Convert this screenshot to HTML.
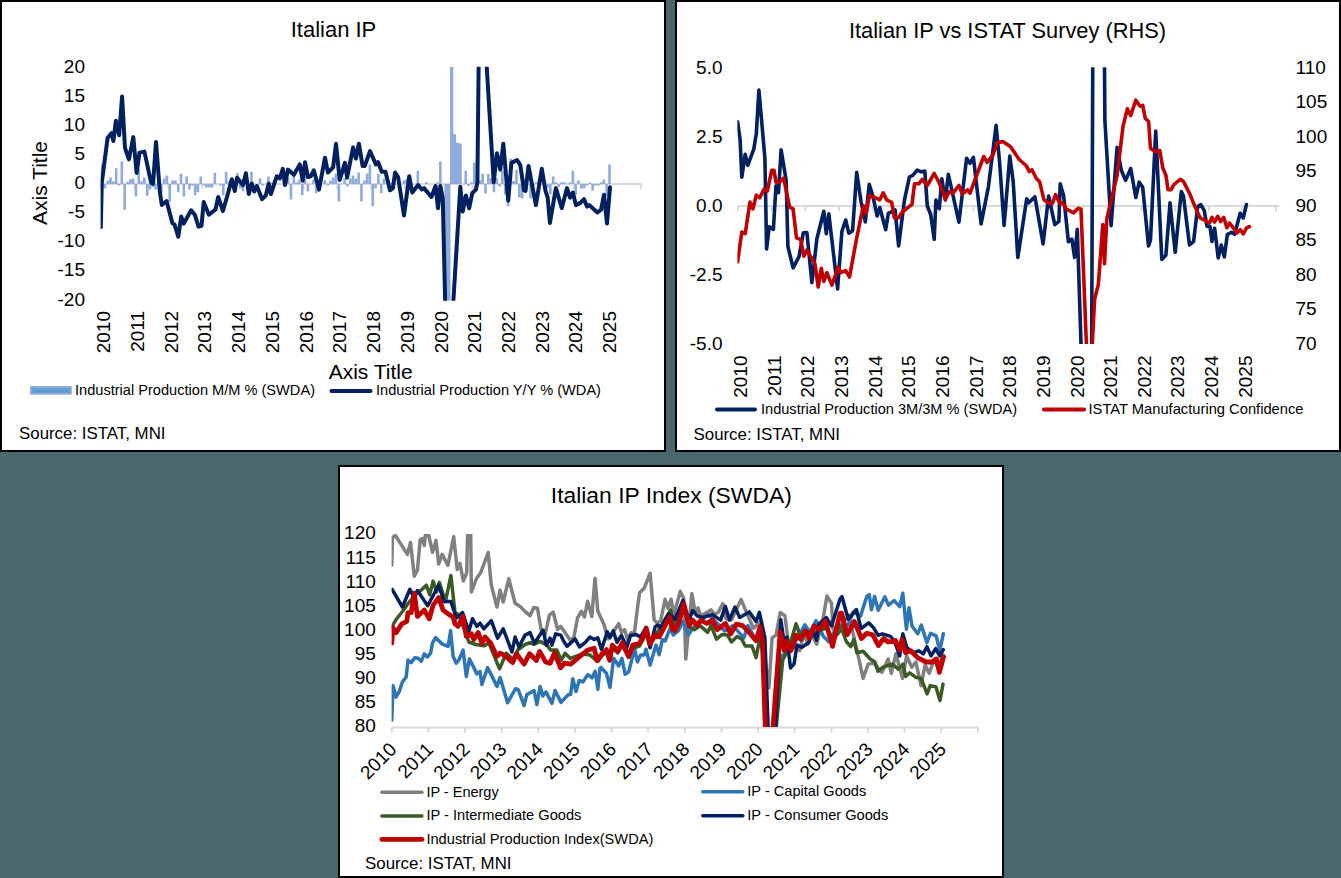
<!DOCTYPE html><html><head><meta charset="utf-8"><style>html,body{margin:0;padding:0;background:#49686E;}svg{display:block}</style></head><body>
<svg width="1341" height="878" viewBox="0 0 1341 878">
<rect x="0" y="0" width="1341" height="878" fill="#49686E"/>
<rect x="1" y="1" width="664" height="450" fill="#FFFFFF" stroke="#000" stroke-width="2"/>
<rect x="676" y="1" width="664" height="450" fill="#FFFFFF" stroke="#000" stroke-width="2"/>
<rect x="339" y="466" width="664" height="411" fill="#FFFFFF" stroke="#000" stroke-width="2"/>
<g font-family="Liberation Sans, sans-serif" fill="#000">
<text x="333.5" y="36.9" font-size="22" text-anchor="middle">Italian IP</text>
<text x="85" y="72.65" font-size="19" text-anchor="end">20</text>
<text x="85" y="101.77" font-size="19" text-anchor="end">15</text>
<text x="85" y="130.89" font-size="19" text-anchor="end">10</text>
<text x="85" y="160.01" font-size="19" text-anchor="end">5</text>
<text x="85" y="189.13" font-size="19" text-anchor="end">0</text>
<text x="85" y="218.25" font-size="19" text-anchor="end">-5</text>
<text x="85" y="247.37" font-size="19" text-anchor="end">-10</text>
<text x="85" y="276.49" font-size="19" text-anchor="end">-15</text>
<text x="85" y="305.61" font-size="19" text-anchor="end">-20</text>
<text transform="translate(46.5,183) rotate(-90)" font-size="21" text-anchor="middle">Axis Title</text>
<text transform="translate(110.10,311) rotate(-90)" font-size="19" text-anchor="end">2010</text>
<text transform="translate(143.84,311) rotate(-90)" font-size="19" text-anchor="end">2011</text>
<text transform="translate(177.58,311) rotate(-90)" font-size="19" text-anchor="end">2012</text>
<text transform="translate(211.32,311) rotate(-90)" font-size="19" text-anchor="end">2013</text>
<text transform="translate(245.06,311) rotate(-90)" font-size="19" text-anchor="end">2014</text>
<text transform="translate(278.80,311) rotate(-90)" font-size="19" text-anchor="end">2015</text>
<text transform="translate(312.54,311) rotate(-90)" font-size="19" text-anchor="end">2016</text>
<text transform="translate(346.28,311) rotate(-90)" font-size="19" text-anchor="end">2017</text>
<text transform="translate(380.02,311) rotate(-90)" font-size="19" text-anchor="end">2018</text>
<text transform="translate(413.76,311) rotate(-90)" font-size="19" text-anchor="end">2019</text>
<text transform="translate(447.50,311) rotate(-90)" font-size="19" text-anchor="end">2020</text>
<text transform="translate(481.24,311) rotate(-90)" font-size="19" text-anchor="end">2021</text>
<text transform="translate(514.98,311) rotate(-90)" font-size="19" text-anchor="end">2022</text>
<text transform="translate(548.72,311) rotate(-90)" font-size="19" text-anchor="end">2023</text>
<text transform="translate(582.46,311) rotate(-90)" font-size="19" text-anchor="end">2024</text>
<text transform="translate(616.20,311) rotate(-90)" font-size="19" text-anchor="end">2025</text>
<text x="370.7" y="378.7" font-size="21" text-anchor="middle">Axis Title</text>
<rect x="30" y="386" width="41.8" height="8.8" rx="1" fill="#8FAADC"/>
<rect x="32" y="388" width="38" height="5" fill="#659ED2"/>
<line x1="36" y1="391.5" x2="68" y2="391.5" stroke="#4A7FB8" stroke-width="1" stroke-dasharray="1,2"/>
<text x="75" y="395" font-size="15" textLength="240" lengthAdjust="spacingAndGlyphs">Industrial Production M/M % (SWDA)</text>
<line x1="331.5" y1="391" x2="370.5" y2="391" stroke="#002060" stroke-width="4" stroke-linecap="round"/>
<text x="376" y="395" font-size="15" textLength="225" lengthAdjust="spacingAndGlyphs">Industrial Production Y/Y % (WDA)</text>
<text x="19" y="439.1" font-size="17" textLength="146.5" lengthAdjust="spacingAndGlyphs">Source: ISTAT, MNI</text>
</g>
<clipPath id="c1"><rect x="100.6" y="66.8" width="560" height="234"/></clipPath>
<line x1="101" y1="184" x2="642.4" y2="184" stroke="#D9D9D9" stroke-width="2"/>
<line x1="101.0" y1="184" x2="101.0" y2="189" stroke="#D9D9D9" stroke-width="2"/>
<line x1="134.8" y1="184" x2="134.8" y2="189" stroke="#D9D9D9" stroke-width="2"/>
<line x1="168.5" y1="184" x2="168.5" y2="189" stroke="#D9D9D9" stroke-width="2"/>
<line x1="202.3" y1="184" x2="202.3" y2="189" stroke="#D9D9D9" stroke-width="2"/>
<line x1="236.0" y1="184" x2="236.0" y2="189" stroke="#D9D9D9" stroke-width="2"/>
<line x1="269.8" y1="184" x2="269.8" y2="189" stroke="#D9D9D9" stroke-width="2"/>
<line x1="303.6" y1="184" x2="303.6" y2="189" stroke="#D9D9D9" stroke-width="2"/>
<line x1="337.3" y1="184" x2="337.3" y2="189" stroke="#D9D9D9" stroke-width="2"/>
<line x1="371.1" y1="184" x2="371.1" y2="189" stroke="#D9D9D9" stroke-width="2"/>
<line x1="404.8" y1="184" x2="404.8" y2="189" stroke="#D9D9D9" stroke-width="2"/>
<line x1="438.6" y1="184" x2="438.6" y2="189" stroke="#D9D9D9" stroke-width="2"/>
<line x1="472.4" y1="184" x2="472.4" y2="189" stroke="#D9D9D9" stroke-width="2"/>
<line x1="506.1" y1="184" x2="506.1" y2="189" stroke="#D9D9D9" stroke-width="2"/>
<line x1="539.9" y1="184" x2="539.9" y2="189" stroke="#D9D9D9" stroke-width="2"/>
<line x1="573.6" y1="184" x2="573.6" y2="189" stroke="#D9D9D9" stroke-width="2"/>
<line x1="607.4" y1="184" x2="607.4" y2="189" stroke="#D9D9D9" stroke-width="2"/>
<line x1="641.2" y1="184" x2="641.2" y2="189" stroke="#D9D9D9" stroke-width="2"/>
<g clip-path="url(#c1)">
<path d="M100.80,164.6h2.6v19.4h-2.6zM103.62,184.0h2.6v4.5h-2.6zM106.44,180.6h2.6v3.4h-2.6zM109.26,177.6h2.6v6.4h-2.6zM112.08,181.3h2.6v2.7h-2.6zM114.89,168.3h2.6v15.7h-2.6zM117.71,184.0h2.6v1.4h-2.6zM120.53,161.5h2.6v22.5h-2.6zM123.35,184.0h2.6v25.7h-2.6zM126.17,181.7h2.6v2.3h-2.6zM128.99,179.3h2.6v4.7h-2.6zM131.81,178.6h2.6v5.4h-2.6zM134.63,184.0h2.6v12.4h-2.6zM137.45,168.7h2.6v15.3h-2.6zM140.27,181.3h2.6v2.7h-2.6zM143.08,177.6h2.6v6.4h-2.6zM145.90,184.0h2.6v11.7h-2.6zM148.72,184.0h2.6v5.5h-2.6zM151.54,184.0h2.6v3.0h-2.6zM154.36,184.0h2.6v5.5h-2.6zM157.18,182.0h2.6v2.0h-2.6zM160.00,184.0h2.6v8.3h-2.6zM162.82,178.6h2.6v5.4h-2.6zM165.64,175.5h2.6v8.5h-2.6zM168.46,184.0h2.6v17.8h-2.6zM171.27,180.6h2.6v3.4h-2.6zM174.09,180.6h2.6v3.4h-2.6zM176.91,184.0h2.6v8.3h-2.6zM179.73,173.8h2.6v10.2h-2.6zM182.55,184.0h2.6v12.4h-2.6zM185.37,176.5h2.6v7.5h-2.6zM188.19,184.0h2.6v5.6h-2.6zM191.01,184.0h2.6v1.4h-2.6zM193.83,184.0h2.6v11.3h-2.6zM196.65,184.0h2.6v8.3h-2.6zM199.46,176.5h2.6v7.5h-2.6zM202.28,184.0h2.6v1.4h-2.6zM205.10,184.0h2.6v3.5h-2.6zM207.92,184.0h2.6v3.5h-2.6zM210.74,184.0h2.6v3.5h-2.6zM213.56,172.8h2.6v11.2h-2.6zM219.20,184.0h2.6v1.4h-2.6zM222.02,184.0h2.6v11.3h-2.6zM224.84,171.7h2.6v12.3h-2.6zM227.65,181.5h2.6v2.5h-2.6zM236.11,173.1h2.6v10.9h-2.6zM238.93,184.0h2.6v4.5h-2.6zM241.75,184.0h2.6v7.3h-2.6zM250.21,171.7h2.6v12.3h-2.6zM255.84,184.0h2.6v2.0h-2.6zM258.66,178.6h2.6v5.4h-2.6zM261.48,184.0h2.6v1.4h-2.6zM267.12,176.5h2.6v7.5h-2.6zM269.94,182.5h2.6v1.5h-2.6zM272.76,179.9h2.6v4.1h-2.6zM286.85,177.9h2.6v6.1h-2.6zM289.67,184.0h2.6v15.4h-2.6zM292.49,175.8h2.6v8.2h-2.6zM295.31,182.3h2.6v1.7h-2.6zM298.13,179.6h2.6v4.4h-2.6zM300.95,184.0h2.6v11.3h-2.6zM303.77,176.9h2.6v7.1h-2.6zM306.59,184.0h2.6v7.6h-2.6zM312.22,179.6h2.6v4.4h-2.6zM315.04,184.0h2.6v9.3h-2.6zM323.50,180.3h2.6v3.7h-2.6zM326.32,184.0h2.6v1.4h-2.6zM329.14,180.6h2.6v3.4h-2.6zM331.96,177.6h2.6v6.4h-2.6zM334.78,173.5h2.6v10.5h-2.6zM337.60,184.0h2.6v17.5h-2.6zM343.23,178.2h2.6v5.8h-2.6zM346.05,184.0h2.6v2.4h-2.6zM348.87,178.6h2.6v5.4h-2.6zM351.69,175.5h2.6v8.5h-2.6zM354.51,178.6h2.6v5.4h-2.6zM357.33,172.4h2.6v11.6h-2.6zM360.15,184.0h2.6v17.5h-2.6zM362.97,180.6h2.6v3.4h-2.6zM365.79,173.5h2.6v10.5h-2.6zM368.60,164.6h2.6v19.4h-2.6zM371.42,184.0h2.6v22.3h-2.6zM374.24,184.0h2.6v4.5h-2.6zM377.06,173.8h2.6v10.2h-2.6zM379.88,184.0h2.6v9.3h-2.6zM382.70,178.6h2.6v5.4h-2.6zM391.16,182.0h2.6v2.0h-2.6zM402.43,180.6h2.6v3.4h-2.6zM405.25,179.0h2.6v5.0h-2.6zM416.53,170.7h2.6v13.3h-2.6zM424.98,182.3h2.6v1.7h-2.6zM436.26,182.3h2.6v1.7h-2.6zM439.08,161.5h2.6v22.5h-2.6zM444.37,184.0h3.3v116.8h-3.3zM447.19,184.0h3.3v116.8h-3.3zM450.01,67.0h3.3v117.0h-3.3zM452.83,134.2h3.3v49.8h-3.3zM455.64,142.7h3.3v41.3h-3.3zM458.46,143.5h3.3v40.5h-3.3zM464.45,170.7h2.6v13.3h-2.6zM467.27,184.0h2.6v2.0h-2.6zM470.09,182.3h2.6v1.7h-2.6zM472.91,162.5h2.6v21.5h-2.6zM478.55,180.3h2.6v3.7h-2.6zM481.36,173.8h2.6v10.2h-2.6zM484.18,184.0h2.6v9.6h-2.6zM487.00,173.8h2.6v10.2h-2.6zM489.82,178.0h2.6v6.0h-2.6zM492.64,184.0h2.6v8.3h-2.6zM495.46,178.0h2.6v6.0h-2.6zM498.28,184.0h2.6v2.4h-2.6zM501.10,170.7h2.6v13.3h-2.6zM503.92,184.0h2.6v10.6h-2.6zM506.74,184.0h2.6v22.3h-2.6zM509.56,158.8h2.6v25.2h-2.6zM512.37,181.0h2.6v3.0h-2.6zM515.19,169.7h2.6v14.3h-2.6zM518.01,184.0h2.6v13.4h-2.6zM520.83,184.0h2.6v14.4h-2.6zM529.29,184.0h2.6v14.4h-2.6zM532.11,184.0h2.6v2.0h-2.6zM534.93,182.3h2.6v1.7h-2.6zM537.75,178.0h2.6v6.0h-2.6zM546.20,184.0h2.6v3.8h-2.6zM549.02,184.0h2.6v10.3h-2.6zM551.84,176.5h2.6v7.5h-2.6zM554.66,182.3h2.6v1.7h-2.6zM557.48,184.0h2.6v3.1h-2.6zM560.30,182.3h2.6v1.7h-2.6zM563.12,182.3h2.6v1.7h-2.6zM568.75,182.5h2.6v1.5h-2.6zM571.57,170.7h2.6v13.3h-2.6zM574.39,184.0h2.6v10.6h-2.6zM577.21,180.6h2.6v3.4h-2.6zM580.03,184.0h2.6v4.5h-2.6zM582.85,184.0h2.6v4.5h-2.6zM585.67,184.0h2.6v1.4h-2.6zM588.49,182.5h2.6v1.5h-2.6zM591.31,184.0h2.6v6.5h-2.6zM594.12,184.0h2.6v1.4h-2.6zM596.94,184.0h2.6v1.4h-2.6zM599.76,182.3h2.6v1.7h-2.6zM602.58,179.6h2.6v4.4h-2.6zM605.40,184.0h2.6v12.0h-2.6zM608.22,164.6h2.6v19.4h-2.6z" fill="#8FAADC"/>
<polyline points="100.8,227.1 101.8,182.6 107.6,138.0 111.5,133.2 113.4,141.0 115.9,120.7 119.2,135.2 122.1,96.5 125.0,147.8 128.9,159.4 133.3,137.1 136.6,172.9 139.5,152.6 144.4,151.6 151.1,182.6 153.1,183.6 156.0,142.0 159.9,192.3 161.8,204.9 166.6,201.0 172.4,223.3 174.4,224.2 178.3,236.8 181.2,216.5 183.7,223.6 191.1,210.3 194.8,214.7 198.5,226.6 201.5,225.8 203.7,202.1 208.9,214.7 215.5,209.5 218.2,197.0 222.9,211.0 227.4,195.5 231.8,179.2 234.8,191.0 237.0,177.7 242.9,185.1 245.9,173.3 248.8,194.0 251.8,183.6 254.2,191.5 256.9,186.0 262.1,199.2 265.8,195.5 268.7,183.6 270.9,194.0 276.8,176.2 279.8,178.5 282.8,168.8 285.0,185.1 287.9,169.6 293.9,174.8 299.8,164.4 302.7,180.7 305.0,162.2 307.9,177.0 310.9,176.2 313.8,170.3 319.0,189.6 325.0,157.7 327.9,172.5 333.1,167.4 336.0,143.7 339.7,180.0 344.9,162.9 347.1,177.7 353.1,147.4 355.9,158.5 358.9,143.7 362.6,165.9 364.8,165.9 370.0,151.1 375.9,164.4 378.1,162.2 381.8,171.8 385.5,171.8 390.0,190.3 392.9,188.1 395.1,172.5 398.1,177.0 404.0,215.5 409.2,176.2 412.2,192.5 418.1,185.1 421.8,189.6 424.0,188.1 431.4,197.0 435.6,186.0 438.0,208.3 440.4,186.0 442.8,198.7 446.0,340.0 451.0,340.0 460.3,186.8 462.7,211.5 465.9,195.5 469.1,208.3 472.3,193.1 475.9,189.6 477.4,182.2 479.0,30.0 484.5,30.0 493.7,182.2 496.9,153.3 500.3,169.6 503.3,143.7 508.2,200.7 511.4,162.9 517.1,160.0 520.3,165.1 524.0,190.3 525.5,191.0 528.5,165.9 535.9,205.1 541.8,168.8 545.5,191.0 547.7,197.7 549.9,222.9 555.9,188.1 561.8,208.1 567.0,188.1 570.0,197.7 572.9,192.5 575.9,205.1 580.3,202.9 584.0,199.2 587.0,206.6 589.2,205.1 597.4,212.5 601.1,209.6 604.0,194.7 607.0,223.6 610.0,187.3" fill="none" stroke="#002060" stroke-width="4" stroke-linejoin="round" stroke-linecap="round"/>
</g>
<g font-family="Liberation Sans, sans-serif" fill="#000">
<text x="1007.5" y="37.7" font-size="22" text-anchor="middle" textLength="317" lengthAdjust="spacingAndGlyphs">Italian IP vs ISTAT Survey (RHS)</text>
<text x="722.5" y="73.60" font-size="19" text-anchor="end">5.0</text>
<text x="722.5" y="142.62" font-size="19" text-anchor="end">2.5</text>
<text x="722.5" y="211.64" font-size="19" text-anchor="end">0.0</text>
<text x="722.5" y="280.66" font-size="19" text-anchor="end">-2.5</text>
<text x="722.5" y="349.68" font-size="19" text-anchor="end">-5.0</text>
<text x="1295.5" y="73.70" font-size="19">110</text>
<text x="1295.5" y="108.19" font-size="19">105</text>
<text x="1295.5" y="142.68" font-size="19">100</text>
<text x="1295.5" y="177.17" font-size="19">95</text>
<text x="1295.5" y="211.66" font-size="19">90</text>
<text x="1295.5" y="246.15" font-size="19">85</text>
<text x="1295.5" y="280.64" font-size="19">80</text>
<text x="1295.5" y="315.13" font-size="19">75</text>
<text x="1295.5" y="349.62" font-size="19">70</text>
<text transform="translate(747.20,355.5) rotate(-90)" font-size="19" text-anchor="end">2010</text>
<text transform="translate(780.83,355.5) rotate(-90)" font-size="19" text-anchor="end">2011</text>
<text transform="translate(814.46,355.5) rotate(-90)" font-size="19" text-anchor="end">2012</text>
<text transform="translate(848.09,355.5) rotate(-90)" font-size="19" text-anchor="end">2013</text>
<text transform="translate(881.72,355.5) rotate(-90)" font-size="19" text-anchor="end">2014</text>
<text transform="translate(915.35,355.5) rotate(-90)" font-size="19" text-anchor="end">2015</text>
<text transform="translate(948.98,355.5) rotate(-90)" font-size="19" text-anchor="end">2016</text>
<text transform="translate(982.61,355.5) rotate(-90)" font-size="19" text-anchor="end">2017</text>
<text transform="translate(1016.24,355.5) rotate(-90)" font-size="19" text-anchor="end">2018</text>
<text transform="translate(1049.87,355.5) rotate(-90)" font-size="19" text-anchor="end">2019</text>
<text transform="translate(1083.50,355.5) rotate(-90)" font-size="19" text-anchor="end">2020</text>
<text transform="translate(1117.13,355.5) rotate(-90)" font-size="19" text-anchor="end">2021</text>
<text transform="translate(1150.76,355.5) rotate(-90)" font-size="19" text-anchor="end">2022</text>
<text transform="translate(1184.39,355.5) rotate(-90)" font-size="19" text-anchor="end">2023</text>
<text transform="translate(1218.02,355.5) rotate(-90)" font-size="19" text-anchor="end">2024</text>
<text transform="translate(1251.65,355.5) rotate(-90)" font-size="19" text-anchor="end">2025</text>
<line x1="717" y1="409.5" x2="755" y2="409.5" stroke="#002060" stroke-width="4" stroke-linecap="round"/>
<text x="761" y="414" font-size="15" textLength="256" lengthAdjust="spacingAndGlyphs">Industrial Production 3M/3M % (SWDA)</text>
<line x1="1044" y1="409.5" x2="1084" y2="409.5" stroke="#C00000" stroke-width="4" stroke-linecap="round"/>
<text x="1088.5" y="414" font-size="15" textLength="215" lengthAdjust="spacingAndGlyphs">ISTAT Manufacturing Confidence</text>
<text x="693.5" y="439.8" font-size="17" textLength="146.5" lengthAdjust="spacingAndGlyphs">Source: ISTAT, MNI</text>
</g>
<line x1="738" y1="206" x2="1279.3" y2="206" stroke="#D9D9D9" stroke-width="2"/>
<line x1="738.0" y1="206" x2="738.0" y2="211.5" stroke="#D9D9D9" stroke-width="2"/>
<line x1="771.6" y1="206" x2="771.6" y2="211.5" stroke="#D9D9D9" stroke-width="2"/>
<line x1="805.3" y1="206" x2="805.3" y2="211.5" stroke="#D9D9D9" stroke-width="2"/>
<line x1="838.9" y1="206" x2="838.9" y2="211.5" stroke="#D9D9D9" stroke-width="2"/>
<line x1="872.5" y1="206" x2="872.5" y2="211.5" stroke="#D9D9D9" stroke-width="2"/>
<line x1="906.1" y1="206" x2="906.1" y2="211.5" stroke="#D9D9D9" stroke-width="2"/>
<line x1="939.8" y1="206" x2="939.8" y2="211.5" stroke="#D9D9D9" stroke-width="2"/>
<line x1="973.4" y1="206" x2="973.4" y2="211.5" stroke="#D9D9D9" stroke-width="2"/>
<line x1="1007.0" y1="206" x2="1007.0" y2="211.5" stroke="#D9D9D9" stroke-width="2"/>
<line x1="1040.7" y1="206" x2="1040.7" y2="211.5" stroke="#D9D9D9" stroke-width="2"/>
<line x1="1074.3" y1="206" x2="1074.3" y2="211.5" stroke="#D9D9D9" stroke-width="2"/>
<line x1="1107.9" y1="206" x2="1107.9" y2="211.5" stroke="#D9D9D9" stroke-width="2"/>
<line x1="1141.6" y1="206" x2="1141.6" y2="211.5" stroke="#D9D9D9" stroke-width="2"/>
<line x1="1175.2" y1="206" x2="1175.2" y2="211.5" stroke="#D9D9D9" stroke-width="2"/>
<line x1="1208.8" y1="206" x2="1208.8" y2="211.5" stroke="#D9D9D9" stroke-width="2"/>
<line x1="1242.5" y1="206" x2="1242.5" y2="211.5" stroke="#D9D9D9" stroke-width="2"/>
<line x1="1276.1" y1="206" x2="1276.1" y2="211.5" stroke="#D9D9D9" stroke-width="2"/>
<clipPath id="c2"><rect x="737.4" y="67.2" width="560" height="276.8"/></clipPath>
<g clip-path="url(#c2)">
<polyline points="737.6,121.7 740.1,139.6 741.8,177.2 745.2,154.2 747.8,165.3 753.8,149.0 756.3,133.7 758.9,90.1 761.5,119.2 764.9,158.4 766.6,249.0 769.2,226.8 773.4,229.4 776.0,185.7 778.5,192.6 781.1,149.9 786.2,180.6 787.9,246.5 793.1,267.8 799.0,256.7 803.3,232.8 806.9,232.6 811.9,282.6 816.9,238.8 823.8,211.3 826.3,233.8 828.8,213.8 832.6,246.3 837.6,288.9 841.9,231.3 845.7,220.0 848.8,233.2 852.6,230.7 856.7,172.4 861.0,201.5 865.3,222.0 869.2,184.4 872.9,196.4 877.2,216.0 879.8,207.5 885.7,229.7 888.3,213.4 895.1,210.0 898.6,245.9 904.5,199.8 909.4,177.0 912.8,175.3 917.1,170.1 921.3,171.8 924.8,171.0 927.3,206.0 930.7,214.5 934.2,239.3 935.9,200.0 939.3,208.6 941.8,178.7 945.3,200.0 948.3,174.4 951.2,187.2 958.9,222.2 966.6,158.2 970.0,163.3 973.4,157.3 981.1,223.9 988.4,186.8 996.1,125.4 999.5,161.2 1004.1,225.4 1009.8,156.1 1013.2,181.7 1017.8,257.5 1026.7,198.7 1028.8,202.8 1034.9,196.7 1043.1,243.9 1048.6,196.0 1054.8,224.7 1058.9,221.3 1060.2,183.7 1063.6,195.4 1068.4,241.8 1071.9,239.2 1074.6,257.4 1077.3,229.2 1082.5,390.0 1091.5,390.0 1093.0,0.0 1104.0,0.0 1104.9,120.6 1111.1,225.7 1117.1,147.2 1121.3,170.2 1125.6,180.4 1130.7,168.5 1135.8,197.5 1139.2,182.2 1142.7,187.3 1148.5,246.0 1150.5,239.9 1155.7,131.1 1161.8,259.4 1165.9,255.3 1170.0,202.9 1175.2,252.2 1181.3,191.6 1183.4,195.7 1189.5,245.0 1193.6,241.5 1197.7,206.6 1200.8,204.6 1204.3,210.7 1206.9,226.1 1210.0,226.6 1212.0,241.5 1214.6,228.2 1218.2,257.9 1221.3,245.1 1224.3,256.9 1227.4,234.3 1231.5,232.3 1234.6,234.3 1240.2,213.3 1243.3,217.9 1246.4,204.6" fill="none" stroke="#002060" stroke-width="3.6" stroke-linejoin="round" stroke-linecap="round"/>
<polyline points="737.6,261.8 741.8,232.0 745.2,233.7 750.0,202.1 752.9,208.9 756.3,195.2 759.8,197.8 764.0,189.2 767.4,190.9 771.7,170.4 774.0,170.4 776.0,182.3 779.4,182.3 783.7,178.1 789.6,207.2 793.1,208.9 796.5,237.9 800.7,239.6 803.8,256.3 806.9,250.1 815.0,263.9 818.2,287.0 821.3,268.2 823.8,281.4 826.9,272.6 831.9,285.1 838.2,267.0 840.7,272.6 845.7,270.7 849.5,277.0 856.3,240.1 861.0,216.8 863.5,205.7 866.1,213.4 869.5,195.5 876.4,198.1 879.8,199.8 883.2,192.9 886.6,199.8 891.7,202.3 894.3,217.7 898.6,217.7 903.7,210.0 904.3,210.3 912.0,204.3 914.5,183.8 918.8,183.8 922.2,179.5 927.3,185.5 934.2,173.5 939.3,182.9 945.3,199.2 949.5,191.5 952.9,193.2 958.9,185.5 962.3,194.0 967.5,189.8 970.0,193.2 983.7,156.5 987.1,162.4 992.7,155.3 997.8,142.4 1002.9,141.6 1010.6,146.7 1019.2,159.5 1026.0,165.5 1029.4,171.5 1032.0,169.8 1036.2,178.3 1039.6,181.7 1043.9,199.7 1048.2,203.1 1052.5,203.1 1055.5,194.6 1060.0,203.7 1062.8,202.8 1066.4,209.1 1073.7,212.8 1078.2,208.2 1081.0,209.1 1087.2,364.0 1091.2,364.0 1094.6,299.3 1098.3,284.8 1102.8,224.6 1104.5,263.8 1106.8,218.8 1117.1,175.3 1123.0,126.7 1127.3,108.8 1130.7,115.6 1135.8,100.2 1140.1,106.2 1142.7,105.4 1145.2,118.2 1148.6,121.6 1150.5,148.5 1155.7,151.6 1159.8,150.6 1162.8,168.0 1165.9,175.2 1168.0,189.6 1171.1,189.6 1174.1,184.4 1180.3,179.3 1183.4,181.4 1190.0,194.3 1194.1,204.6 1200.2,217.9 1209.5,223.0 1212.0,217.4 1214.6,222.0 1217.7,216.4 1220.7,221.5 1223.8,217.4 1226.9,227.7 1229.5,223.0 1237.1,232.8 1240.2,229.7 1243.3,233.8 1246.4,228.2 1249.4,226.6" fill="none" stroke="#C00000" stroke-width="3.6" stroke-linejoin="round" stroke-linecap="round"/>
</g>
<g font-family="Liberation Sans, sans-serif" fill="#000">
<text x="671.3" y="502.6" font-size="22" text-anchor="middle" textLength="241" lengthAdjust="spacingAndGlyphs">Italian IP Index (SWDA)</text>
<text x="375.8" y="539.40" font-size="19" text-anchor="end">120</text>
<text x="375.8" y="563.52" font-size="19" text-anchor="end">115</text>
<text x="375.8" y="587.64" font-size="19" text-anchor="end">110</text>
<text x="375.8" y="611.76" font-size="19" text-anchor="end">105</text>
<text x="375.8" y="635.88" font-size="19" text-anchor="end">100</text>
<text x="375.8" y="660.00" font-size="19" text-anchor="end">95</text>
<text x="375.8" y="684.12" font-size="19" text-anchor="end">90</text>
<text x="375.8" y="708.24" font-size="19" text-anchor="end">85</text>
<text x="375.8" y="732.36" font-size="19" text-anchor="end">80</text>
<text transform="translate(397.80,750.5) rotate(-45)" font-size="19" text-anchor="end">2010</text>
<text transform="translate(434.43,750.5) rotate(-45)" font-size="19" text-anchor="end">2011</text>
<text transform="translate(471.06,750.5) rotate(-45)" font-size="19" text-anchor="end">2012</text>
<text transform="translate(507.69,750.5) rotate(-45)" font-size="19" text-anchor="end">2013</text>
<text transform="translate(544.32,750.5) rotate(-45)" font-size="19" text-anchor="end">2014</text>
<text transform="translate(580.95,750.5) rotate(-45)" font-size="19" text-anchor="end">2015</text>
<text transform="translate(617.58,750.5) rotate(-45)" font-size="19" text-anchor="end">2016</text>
<text transform="translate(654.21,750.5) rotate(-45)" font-size="19" text-anchor="end">2017</text>
<text transform="translate(690.84,750.5) rotate(-45)" font-size="19" text-anchor="end">2018</text>
<text transform="translate(727.47,750.5) rotate(-45)" font-size="19" text-anchor="end">2019</text>
<text transform="translate(764.10,750.5) rotate(-45)" font-size="19" text-anchor="end">2020</text>
<text transform="translate(800.73,750.5) rotate(-45)" font-size="19" text-anchor="end">2021</text>
<text transform="translate(837.36,750.5) rotate(-45)" font-size="19" text-anchor="end">2022</text>
<text transform="translate(873.99,750.5) rotate(-45)" font-size="19" text-anchor="end">2023</text>
<text transform="translate(910.62,750.5) rotate(-45)" font-size="19" text-anchor="end">2024</text>
<text transform="translate(947.25,750.5) rotate(-45)" font-size="19" text-anchor="end">2025</text>
<line x1="381.9" y1="792.3" x2="421.9" y2="792.3" stroke="#808080" stroke-width="3.5" stroke-linecap="round"/>
<text x="426.4" y="796.8" font-size="15" textLength="72.3" lengthAdjust="spacingAndGlyphs">IP - Energy</text>
<line x1="702.8" y1="791.8" x2="742.8" y2="791.8" stroke="#2E75B6" stroke-width="3.5" stroke-linecap="round"/>
<text x="747.3" y="796.3" font-size="15" textLength="119" lengthAdjust="spacingAndGlyphs">IP - Capital Goods</text>
<line x1="381.9" y1="815.9" x2="421.9" y2="815.9" stroke="#3A5A26" stroke-width="3.5" stroke-linecap="round"/>
<text x="426.4" y="820.4" font-size="15" textLength="155" lengthAdjust="spacingAndGlyphs">IP - Intermediate Goods</text>
<line x1="702.8" y1="815.7" x2="742.8" y2="815.7" stroke="#002060" stroke-width="3.5" stroke-linecap="round"/>
<text x="747.3" y="820.2" font-size="15" textLength="141" lengthAdjust="spacingAndGlyphs">IP - Consumer Goods</text>
<line x1="381.9" y1="839.4" x2="421.9" y2="839.4" stroke="#C00000" stroke-width="4.8" stroke-linecap="round"/>
<text x="426.4" y="843.9" font-size="15" textLength="227" lengthAdjust="spacingAndGlyphs">Industrial Production Index(SWDA)</text>
<text x="365" y="869.4" font-size="17" textLength="146.5" lengthAdjust="spacingAndGlyphs">Source: ISTAT, MNI</text>
</g>
<line x1="391.8" y1="727.6" x2="978.4" y2="727.6" stroke="#D9D9D9" stroke-width="2"/>
<line x1="391.8" y1="727.6" x2="391.8" y2="732.7" stroke="#D9D9D9" stroke-width="2"/>
<line x1="428.4" y1="727.6" x2="428.4" y2="732.7" stroke="#D9D9D9" stroke-width="2"/>
<line x1="465.1" y1="727.6" x2="465.1" y2="732.7" stroke="#D9D9D9" stroke-width="2"/>
<line x1="501.7" y1="727.6" x2="501.7" y2="732.7" stroke="#D9D9D9" stroke-width="2"/>
<line x1="538.3" y1="727.6" x2="538.3" y2="732.7" stroke="#D9D9D9" stroke-width="2"/>
<line x1="575.0" y1="727.6" x2="575.0" y2="732.7" stroke="#D9D9D9" stroke-width="2"/>
<line x1="611.6" y1="727.6" x2="611.6" y2="732.7" stroke="#D9D9D9" stroke-width="2"/>
<line x1="648.2" y1="727.6" x2="648.2" y2="732.7" stroke="#D9D9D9" stroke-width="2"/>
<line x1="684.8" y1="727.6" x2="684.8" y2="732.7" stroke="#D9D9D9" stroke-width="2"/>
<line x1="721.5" y1="727.6" x2="721.5" y2="732.7" stroke="#D9D9D9" stroke-width="2"/>
<line x1="758.1" y1="727.6" x2="758.1" y2="732.7" stroke="#D9D9D9" stroke-width="2"/>
<line x1="794.7" y1="727.6" x2="794.7" y2="732.7" stroke="#D9D9D9" stroke-width="2"/>
<line x1="831.4" y1="727.6" x2="831.4" y2="732.7" stroke="#D9D9D9" stroke-width="2"/>
<line x1="868.0" y1="727.6" x2="868.0" y2="732.7" stroke="#D9D9D9" stroke-width="2"/>
<line x1="904.6" y1="727.6" x2="904.6" y2="732.7" stroke="#D9D9D9" stroke-width="2"/>
<line x1="941.2" y1="727.6" x2="941.2" y2="732.7" stroke="#D9D9D9" stroke-width="2"/>
<line x1="977.9" y1="727.6" x2="977.9" y2="732.7" stroke="#D9D9D9" stroke-width="2"/>
<clipPath id="c3"><rect x="391.6" y="533.9" width="600" height="193.1"/></clipPath>
<g clip-path="url(#c3)">
<polyline points="391.8,565.1 392.4,537.5 395.5,535.6 407.4,554.4 410.5,542.5 414.3,576.3 417.4,570.1 420.2,540.0 422.3,538.5 424.3,545.5 425.3,535.5 428.8,535.5 432.5,552.3 436.0,540.4 438.7,564.0 442.1,554.4 447.9,565.3 453.7,536.6 457.2,569.4 459.9,563.3 463.3,581.0 466.7,572.8 467.8,525.0 470.6,525.0 471.4,592.0 476.3,578.8 480.7,572.6 488.2,552.5 491.3,585.1 497.0,607.0 500.1,590.1 503.2,602.0 508.8,578.8 515.1,603.3 520.1,606.4 525.0,611.4 530.0,615.7 533.8,607.6 537.5,608.2 541.3,630.7 545.0,635.1 549.4,615.1 553.2,612.0 557.6,629.5 560.7,626.3 570.1,640.1 573.8,637.6 577.6,617.6 581.4,611.3 584.5,617.0 587.6,601.3 591.8,616.5 595.0,578.2 597.8,611.0 604.1,624.7 607.8,638.7 615.1,629.2 618.7,623.7 621.4,632.3 624.6,629.6 627.5,639.6 631.0,632.8 634.4,633.0 637.8,605.5 639.6,592.8 644.2,588.2 650.1,573.2 654.2,620.1 657.0,622.8 660.6,621.0 665.1,599.2 667.9,608.3 671.1,599.2 673.8,614.6 680.3,591.4 683.7,598.3 685.8,659.0 691.9,593.5 695.3,613.3 698.1,607.8 700.8,616.0 711.0,609.9 714.5,614.6 718.6,611.9 722.7,603.7 726.1,618.7 731.5,620.1 741.1,599.6 753.4,628.3 760.1,621.9 768.9,688.1 772.1,637.8 776.1,635.1 780.2,612.5 784.9,615.6 787.9,639.2 793.0,646.0 799.7,650.5 803.8,634.1 807.9,644.3 811.0,632.0 816.6,644.3 823.3,617.7 826.9,596.1 831.5,603.3 833.0,629.0 841.0,625.0 849.2,615.1 853.3,634.4 858.0,654.9 863.1,678.4 868.2,664.1 873.8,663.1 882.0,672.3 888.2,659.0 891.3,673.3 895.9,653.8 902.5,678.4 906.6,655.9 911.8,667.2 915.9,662.0 921.0,685.6 925.1,665.1 929.2,673.3 934.3,659.0 938.0,668.0 943.0,655.0" fill="none" stroke="#808080" stroke-width="3.5" stroke-linejoin="round" stroke-linecap="round"/>
<polyline points="391.8,720.2 393.0,685.7 396.1,697.0 399.3,691.4 402.4,682.0 406.2,677.0 408.0,660.1 411.2,662.6 414.9,657.6 418.1,658.2 421.2,661.3 424.3,653.8 427.4,657.0 430.6,653.2 432.5,643.2 435.6,637.5 441.8,643.8 448.1,646.3 450.6,630.7 453.1,656.3 456.2,663.2 458.8,660.1 463.1,650.1 466.3,676.4 469.4,658.9 476.9,673.9 480.0,671.4 481.9,684.5 487.6,667.6 497.0,686.4 500.1,677.6 507.6,702.7 515.5,688.7 518.2,689.6 524.1,705.6 526.8,694.6 534.1,690.5 536.9,704.7 540.1,686.4 542.8,696.0 546.0,691.9 551.9,703.3 555.1,690.5 561.0,702.4 568.3,694.6 570.6,694.6 572.8,678.7 576.0,691.5 579.2,680.5 582.9,681.9 587.9,674.6 592.0,677.8 595.2,671.4 597.9,689.2 600.0,668.2 600.9,667.4 606.4,673.3 610.0,687.4 613.7,658.3 618.7,666.0 621.9,658.3 625.1,674.2 628.7,671.9 634.6,648.7 637.4,661.9 640.6,655.1 644.2,655.1 646.0,649.2 650.1,665.1 656.0,645.1 659.2,654.6 662.4,639.6 665.1,641.0 670.2,628.2 673.3,635.0 678.3,631.0 683.0,621.5 688.5,634.5 696.0,624.2 708.3,614.6 716.5,622.8 724.7,631.0 732.9,625.6 743.8,637.9 747.9,625.6 756.1,640.6 759.5,628.0 763.5,645.0 768.0,780.0 771.0,780.0 782.1,655.6 789.7,650.0 797.6,638.0 804.8,624.8 810.0,632.0 816.1,620.7 823.3,636.1 828.7,641.8 834.0,632.0 840.0,626.0 848.0,625.0 853.3,612.1 860.5,616.2 866.7,596.7 869.2,594.6 871.5,609.7 874.6,596.4 878.2,610.3 884.9,596.9 888.5,605.1 894.1,600.5 899.7,606.7 902.8,593.3 906.4,629.2 909.0,607.7 912.1,626.2 917.7,633.8 921.3,625.1 926.9,642.6 930.5,633.3 936.2,635.9 939.7,650.8 943.3,633.8" fill="none" stroke="#2E75B6" stroke-width="3.5" stroke-linejoin="round" stroke-linecap="round"/>
<polyline points="392.1,626.2 396.2,619.4 401.7,612.5 408.5,603.0 415.4,594.7 422.2,589.3 426.3,585.2 429.7,594.7 433.1,581.1 436.5,592.0 439.3,582.4 445.4,601.6 450.9,575.6 455.0,612.5 459.1,615.3 468.8,642.0 475.7,644.5 484.4,645.7 488.8,642.6 499.5,668.9 506.3,653.2 513.9,660.1 517.6,650.1 525.0,644.5 530.0,642.6 533.8,644.5 540.0,641.4 546.9,645.1 550.7,650.1 556.9,650.1 561.3,660.1 565.1,653.3 570.1,658.3 582.6,653.9 590.0,655.1 597.8,661.5 601.8,656.0 606.4,652.0 609.6,661.0 612.3,648.0 617.8,653.0 622.3,645.0 628.7,657.5 632.8,648.0 639.6,646.0 646.5,633.0 649.7,646.0 657.9,631.4 670.6,610.1 675.0,626.0 683.7,605.0 689.2,627.0 694.6,629.7 700.1,625.6 707.6,632.4 711.0,625.6 716.5,639.2 722.0,634.5 727.4,635.1 731.5,642.0 737.0,636.5 741.8,639.2 745.2,646.1 752.0,646.1 756.1,657.7 759.5,640.0 762.5,650.0 768.0,780.0 771.0,780.0 782.8,659.7 788.4,649.4 796.1,623.8 800.7,637.1 805.0,630.0 812.0,634.0 820.0,630.0 827.0,628.0 832.8,640.0 840.0,631.0 841.0,626.4 846.2,641.5 850.8,646.7 853.8,639.5 856.9,652.8 863.1,651.3 870.2,659.0 874.9,662.0 877.9,671.3 883.1,667.2 892.3,664.1 898.4,669.2 903.0,664.1 905.6,676.4 909.7,672.8 915.9,677.4 921.0,678.4 927.1,693.8 930.2,685.6 935.8,686.6 940.0,700.5 943.0,684.1" fill="none" stroke="#3A5A26" stroke-width="3.5" stroke-linejoin="round" stroke-linecap="round"/>
<polyline points="392.1,589.3 402.4,607.0 409.9,589.3 414.0,597.5 417.4,590.6 427.7,605.7 438.6,585.2 444.1,601.6 450.9,601.6 456.4,618.0 462.5,612.5 468.8,631.3 472.5,618.8 476.9,626.3 480.0,623.2 483.8,628.8 491.3,620.7 497.6,638.2 503.2,628.8 512.0,652.0 515.1,637.0 518.9,647.0 525.0,635.1 530.0,632.6 534.4,643.2 543.2,630.1 546.3,645.1 550.1,638.2 551.9,645.1 555.7,633.9 560.7,635.1 563.8,641.4 567.0,646.4 575.1,638.9 579.5,647.0 585.1,642.6 590.0,637.0 594.1,639.6 597.8,637.8 601.4,649.6 607.3,631.8 610.0,637.8 613.2,630.9 616.9,642.3 621.4,635.5 626.9,647.3 630.5,635.5 636.0,634.6 640.6,636.9 646.0,627.3 650.1,647.8 655.1,626.8 657.9,625.0 660.6,627.8 668.8,613.7 675.0,619.2 683.0,600.3 688.5,621.5 692.6,610.5 697.4,616.0 702.8,617.4 712.4,614.6 720.6,620.1 725.4,606.4 729.5,620.1 734.9,607.1 739.7,617.4 749.3,611.9 756.1,621.5 759.4,612.3 764.9,637.8 770.0,780.0 773.0,780.0 780.8,619.7 783.8,640.2 786.9,637.1 790.5,667.9 794.1,663.8 797.0,645.0 801.8,647.4 808.9,642.3 813.0,631.0 816.6,640.2 819.2,623.8 826.4,617.7 831.5,625.9 840.0,599.2 842.0,596.7 848.2,619.2 856.4,609.5 861.0,628.5 868.7,622.8 873.1,627.2 878.2,635.4 882.3,633.8 890.5,636.4 894.6,641.5 899.7,655.9 902.8,633.8 906.9,647.7 913.1,652.8 918.7,650.8 923.3,653.8 926.9,646.7 931.0,655.9 935.6,648.7 939.7,655.9 943.3,649.7" fill="none" stroke="#002060" stroke-width="3.5" stroke-linejoin="round" stroke-linecap="round"/>
<polyline points="391.8,643.0 393.0,627.7 396.1,632.7 401.8,623.9 406.8,621.4 408.0,612.7 411.2,612.7 414.3,593.2 417.4,616.4 424.3,610.1 429.3,618.9 433.1,605.1 438.7,597.6 443.1,610.1 448.1,613.9 453.1,617.0 455.0,623.8 458.1,626.3 463.1,616.3 466.3,636.3 471.3,633.8 473.8,639.5 478.2,632.6 481.9,643.2 485.1,637.0 490.7,643.2 497.0,656.4 500.1,653.2 505.1,655.7 512.6,662.6 516.4,653.7 524.1,664.1 529.6,653.7 536.4,660.5 539.6,651.4 545.5,661.9 550.1,663.2 554.6,652.8 560.5,667.8 564.6,663.2 570.6,664.1 582.0,654.6 587.9,650.0 594.2,648.2 597.0,660.5 601.8,654.2 606.4,649.6 609.6,660.1 612.3,645.1 617.8,651.0 622.3,642.8 628.7,656.4 632.8,645.1 639.6,643.2 646.5,628.7 649.7,644.1 655.1,635.0 659.2,636.9 669.7,616.8 672.4,629.6 675.0,630.5 678.9,622.8 683.7,603.7 689.2,625.6 692.6,620.1 697.4,625.6 700.8,620.1 706.9,623.5 712.4,620.1 717.2,629.7 725.4,623.5 730.8,633.8 736.3,624.2 742.5,625.6 747.9,631.0 756.1,640.6 760.1,626.7 762.5,642.6 767.0,780.0 769.0,780.0 780.2,632.0 784.3,650.5 786.4,641.2 791.0,650.5 796.1,635.1 800.7,639.2 805.4,631.0 809.5,638.2 814.1,625.9 819.2,630.0 825.3,620.7 832.5,646.4 840.0,613.6 841.5,613.1 847.2,634.6 854.4,621.5 861.5,638.5 866.7,633.3 872.8,634.9 878.4,645.6 883.6,638.5 888.2,642.0 895.4,640.5 899.5,649.7 902.0,639.5 905.6,652.8 910.7,650.8 917.9,657.9 926.1,662.0 932.3,662.0 936.4,659.0 939.4,672.3 943.5,656.9" fill="none" stroke="#C00000" stroke-width="4.8" stroke-linejoin="round" stroke-linecap="round"/>
</g>
</svg></body></html>
